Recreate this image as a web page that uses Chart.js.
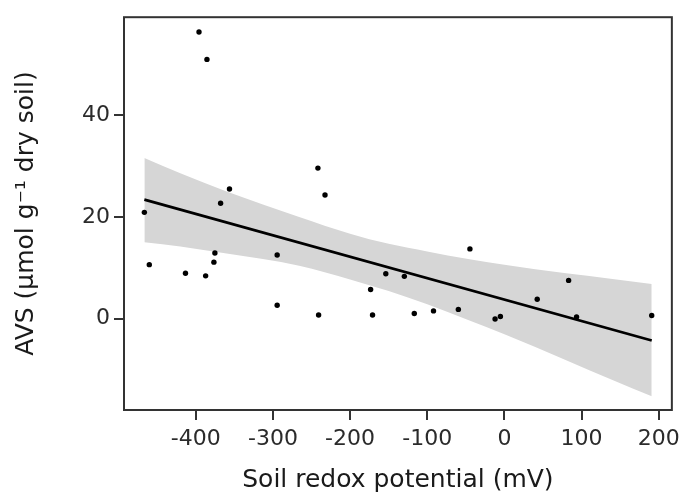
<!DOCTYPE html>
<html>
<head>
<meta charset="utf-8">
<script src="https://cdn.jsdelivr.net/npm/chart.js@4.4.1/dist/chart.umd.min.js"></script>
<style>
  html, body { margin: 0; padding: 0; background: #ffffff; }
  #wrap { width: 686px; height: 495px; }
</style>
</head>
<body>
<div id="wrap"><canvas id="c" width="686" height="495"></canvas></div>
<script>
// ---- Data ----
const redoxMV = [-466.6, -460.2, -413.3, -395.8, -387.2, -385.5, -376.5, -375.2, -367.8, -356.3,
                 -294.5, -294.5, -241.7, -240.8, -232.5, -173.4, -170.9, -153.7, -129.7, -116.8,
                 -91.9, -59.7, -44.7, -12.1, -5.2, 42.5, 83.2, 93.5, 190.9];
const avsValues = [20.9, 10.6, 8.9, 56.4, 8.4, 51.0, 11.1, 12.9, 22.7, 25.5,
                   12.5, 2.6, 29.6, 0.7, 24.3, 5.7, 0.7, 8.8, 8.3, 1.0,
                   1.5, 1.8, 13.7, -0.1, 0.4, 3.8, 7.5, 0.3, 0.6];

// fitted regression line (end points)
const fitX = [-466.6, 190.9];
const fitY = [23.4, -4.3];

// confidence band edges
const bandX     = [-466.6, -420, -360, -266, -200, -150, -100, -47, 0, 80, 140, 190.9];
const bandUpper = [31.6, 28.6, 25.0, 20.0, 16.7, 14.7, 13.2, 11.7, 10.6, 8.9, 7.8, 6.8];
const bandLower = [15.0, 14.2, 12.8, 10.4, 7.7, 5.4, 2.8, -0.3, -3.1, -8.2, -12.1, -15.3];

// axis ticks
const xTicks = [-400, -300, -200, -100, 0, 100, 200];
const yTicks = [0, 20, 40];

const xTitle = 'Soil redox potential (mV)';
const yTitle = 'AVS (µmol g⁻¹ dry soil)';

// ---- Build chart ----
const toXY = (xs, ys) => xs.map((x, i) => ({ x: x, y: ys[i] }));
const FONT = '"DejaVu Sans", "Liberation Sans", sans-serif';
const AXIS_COL = '#333333';

const framePlugin = {
  id: 'frame',
  afterDraw(chart) {
    const { ctx, chartArea: a } = chart;
    ctx.save();
    ctx.strokeStyle = AXIS_COL;
    ctx.lineWidth = 2;
    ctx.strokeRect(a.left, a.top, a.right - a.left, a.bottom - a.top);
    ctx.restore();
  }
};

new Chart(document.getElementById('c'), {
  type: 'scatter',
  data: {
    datasets: [
      {
        label: 'points',
        data: toXY(redoxMV, avsValues),
        backgroundColor: '#000000',
        borderColor: '#000000',
        pointRadius: 2.7,
        pointBorderWidth: 0,
        order: 0
      },
      {
        label: 'fit',
        data: toXY(fitX, fitY),
        showLine: true,
        borderColor: '#000000',
        borderWidth: 2.6,
        pointRadius: 0,
        fill: false,
        order: 1
      },
      {
        label: 'upper',
        data: toXY(bandX, bandUpper),
        showLine: true,
        borderWidth: 0,
        borderColor: 'rgba(0,0,0,0)',
        backgroundColor: '#d6d6d6',
        pointRadius: 0,
        cubicInterpolationMode: 'monotone',
        fill: '+1',
        order: 2
      },
      {
        label: 'lower',
        data: toXY(bandX, bandLower),
        showLine: true,
        borderWidth: 0,
        borderColor: 'rgba(0,0,0,0)',
        pointRadius: 0,
        cubicInterpolationMode: 'monotone',
        fill: false,
        order: 3
      }
    ]
  },
  options: {
    responsive: false,
    animation: false,
    devicePixelRatio: 1,
    layout: { padding: { top: 10, right: 11, left: 0, bottom: 0 } },
    plugins: {
      legend: { display: false },
      tooltip: { enabled: false },
      filler: { propagate: false }
    },
    scales: {
      x: {
        type: 'linear',
        min: -493,
        max: 217,
        afterBuildTicks: (s) => { s.ticks = xTicks.map(v => ({ value: v })); },
        afterFit: (s) => { s.height = 85; },
        border: { display: false },
        grid: { drawOnChartArea: false, drawTicks: true, tickLength: 10, color: AXIS_COL, lineWidth: 2 },
        ticks: {
          padding: 6,
          color: '#2b2b2b',
          font: { family: FONT, size: 22 },
          maxRotation: 0,
          autoSkip: false
        },
        title: {
          display: true,
          text: xTitle,
          color: '#1a1a1a',
          font: { family: FONT, size: 25, lineHeight: 1.2 },
          padding: { top: 0, bottom: 0 }
        }
      },
      y: {
        type: 'linear',
        min: -18,
        max: 59.3,
        afterBuildTicks: (s) => { s.ticks = yTicks.map(v => ({ value: v })); },
        afterFit: (s) => { s.width = 124; },
        border: { display: false },
        grid: { drawOnChartArea: false, drawTicks: true, tickLength: 10, color: AXIS_COL, lineWidth: 2 },
        ticks: {
          padding: 4,
          color: '#2b2b2b',
          font: { family: FONT, size: 22 },
          autoSkip: false
        },
        title: {
          display: true,
          text: yTitle,
          color: '#1a1a1a',
          font: { family: FONT, size: 25, lineHeight: 1.2 },
          padding: { top: 11, bottom: 0 }
        }
      }
    }
  },
  plugins: [framePlugin]
});
</script>
</body>
</html>
